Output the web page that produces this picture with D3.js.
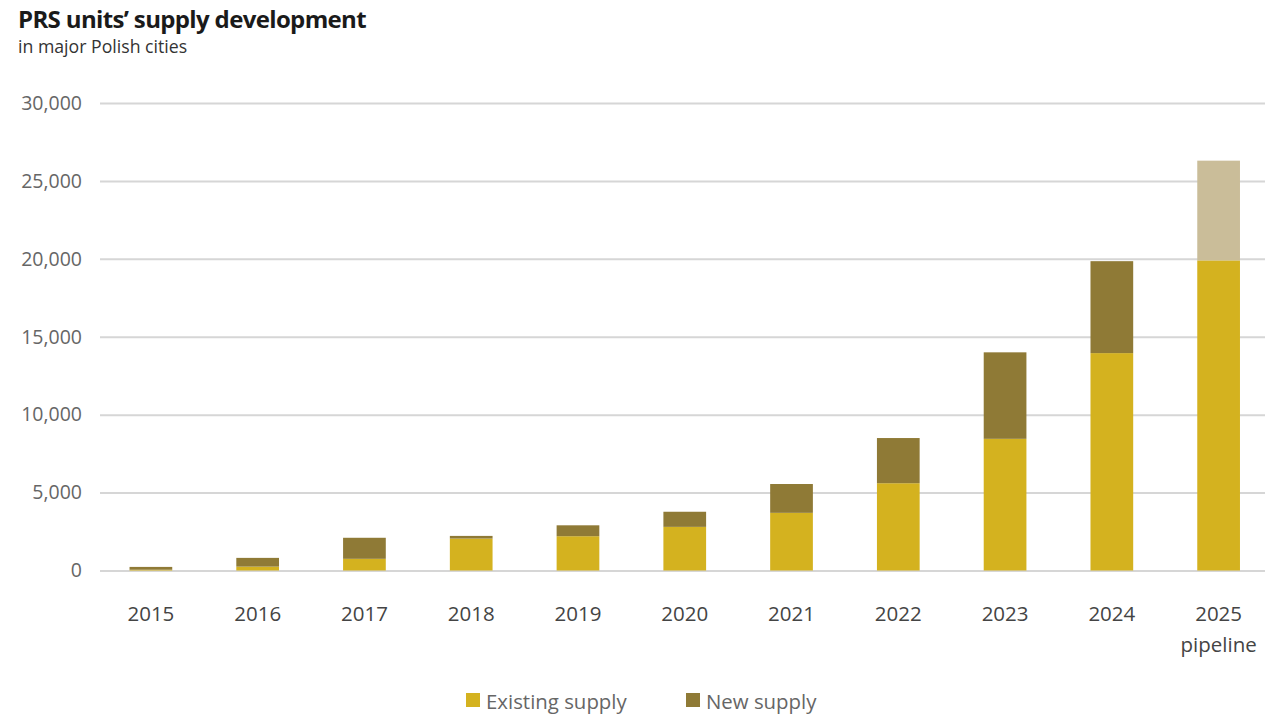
<!DOCTYPE html>
<html>
<head>
<meta charset="utf-8">
<script src="https://cdn.jsdelivr.net/npm/d3@7"></script>
<style>
  body { margin: 0; background: #fff; }
  svg { font-family: "Open Sans", sans-serif; }
</style>
</head>
<body>
<div id="container"></div>
<script>
const years = ["2015","2016","2017","2018","2019","2020","2021","2022","2023","2024","2025"];
const existingSupply = [50, 250, 750, 2050, 2200, 2800, 3700, 5600, 8450, 13950, 19900];
const newSupply = [180, 560, 1350, 170, 700, 970, 1850, 2900, 5550, 5900, 0];
const pipelineSupply = [0, 0, 0, 0, 0, 0, 0, 0, 0, 0, 6400];
const yTicks = [0, 5000, 10000, 15000, 20000, 25000, 30000];
const seriesNames = ["Existing supply", "New supply"];

const w = 1280, h = 720;
const font = "Open Sans, sans-serif";
const colors = { existing: "#d4b21f", newS: "#8f7a36", pipeline: "#cabd99" };

const rows = years.map((y, i) => ({
    year: y,
    existing: existingSupply[i],
    newS: newSupply[i],
    pipeline: pipelineSupply[i]
}));

const stack = d3.stack().keys(["existing", "newS", "pipeline"])(rows);

const xScale = d3.scaleBand()
    .domain(years)
    .range([97.5, 1272])
    .paddingInner(0.6)
    .paddingOuter(0.3);

const yScale = d3.scaleLinear()
    .domain([0, 30000])
    .range([570.5, 103]);

let svg = d3.select("#container")
    .append("svg")
    .attr("width", w)
    .attr("height", h);

svg.append("text")
    .attr("x", 18)
    .attr("y", 28)
    .attr("font-size", 24)
    .attr("font-weight", "bold")
    .attr("fill", "#1a1a1a")
    .attr("letter-spacing", -0.65)
    .text("PRS units\u2019 supply development");

svg.append("text")
    .attr("x", 18)
    .attr("y", 53)
    .attr("font-size", 17.7)
    .attr("fill", "#333")
    .text("in major Polish cities");

// grid + y labels
const yAxis = d3.axisLeft(yScale)
    .tickValues(yTicks)
    .tickSize(-1165)
    .tickPadding(18)
    .tickFormat(d3.format(","));

svg.append("g")
    .attr("transform", "translate(100,0)")
    .call(yAxis)
    .call(g => g.select(".domain").remove())
    .call(g => g.selectAll(".tick line").attr("stroke", "#d6d6d6").attr("stroke-width", 2))
    .call(g => g.selectAll(".tick text")
        .attr("font-size", 19.5)
        .attr("fill", "#666")
        .attr("font-family", font));

svg.append("g")
    .selectAll("g")
    .data(stack)
    .enter()
    .append("g")
    .attr("fill", d => colors[d.key])
    .selectAll("rect")
    .data(d => d)
    .enter()
    .append("rect")
    .attr("x", d => xScale(d.data.year))
    .attr("width", xScale.bandwidth())
    .attr("y", d => yScale(d[1]))
    .attr("height", d => yScale(d[0]) - yScale(d[1]));

const xAxis = d3.axisBottom(xScale).tickSize(0).tickPadding(0);

svg.append("g")
    .attr("transform", "translate(0,570.5)")
    .call(xAxis)
    .call(g => g.select(".domain").remove())
    .call(g => g.selectAll(".tick text")
        .attr("y", 50)
        .attr("dy", null)
        .attr("font-size", 20.5)
        .attr("fill", "#444")
        .attr("font-family", font))
    .call(g => g.selectAll(".tick")
        .filter(d => d === "2025")
        .append("text")
        .attr("y", 81)
        .attr("text-anchor", "middle")
        .attr("font-size", 20.5)
        .attr("fill", "#444")
        .attr("font-family", font)
        .text("pipeline"));

// legend
const legend = svg.append("g").attr("id", "legend");
const legendX = [466, 686];
const legendColors = [colors.existing, colors.newS];
seriesNames.forEach((name, i) => {
    legend.append("rect")
        .attr("x", legendX[i])
        .attr("y", 693)
        .attr("width", 14)
        .attr("height", 14)
        .attr("fill", legendColors[i]);
    legend.append("text")
        .attr("x", legendX[i] + 20)
        .attr("y", 709)
        .attr("font-size", 20.4)
        .attr("fill", "#666")
        .text(name);
});
</script>
</body>
</html>
